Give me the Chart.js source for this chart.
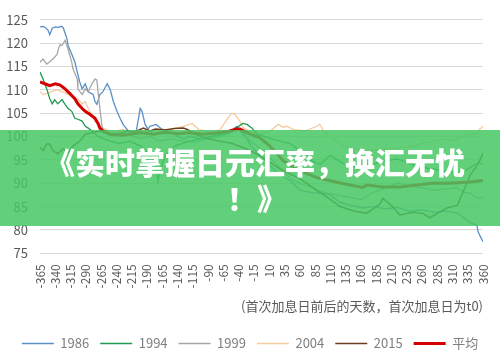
<!DOCTYPE html>
<html><head><meta charset="utf-8">
<script src="https://cdn.jsdelivr.net/npm/chart.js@4/dist/chart.umd.min.js"></script>
<style>
html,body{margin:0;padding:0;background:#fff;}
#wrap{position:relative;width:500px;height:356px;overflow:hidden;}
canvas{position:absolute;left:0;top:0;}
#banner{position:absolute;left:0;top:130px;width:500px;height:96px;background:rgba(70,199,100,0.85);}
.bt{position:absolute;left:0;width:500px;color:#fff;font-family:"Noto Sans CJK SC";font-weight:900;font-size:30px;line-height:36px;text-align:center;white-space:nowrap;}
</style></head>
<body><div id="wrap"><canvas id="c" width="500" height="356"></canvas>
<div id="banner"><div class="bt" style="top:13px;left:5px">《实时掌握日元汇率，换汇无忧</div><div class="bt" style="top:49px;left:7px">！》</div></div></div>
<script>
const xTickLabels = [-365,-340,-315,-290,-265,-240,-215,-190,-165,-140,-115,-90,-65,-40,-15,10,35,60,85,110,135,160,185,210,235,260,285,310,335,360];
const seriesNames = ['1986','1994','1999','2004','2015','平均'];

const days1986 = [-365,-360,-356,-352,-349,-345,-340,-335,-330,-327,-321,-319,-313,-308,-304,-300,-296,-291,-286,-278,-275,-272,-267,-262,-255,-250,-245,-239,-234,-229,-223,-215,-208,-201,-198,-193,-188,-185,-175,-165,-150,-140,-130,-120,-100,-80,-60,-43,-30,-20,-5,10,25,45,60,80,100,110,125,142,164,180,200,220,240,260,280,300,318,330,339,350,352,356,360];
const vals1986 = [123.5,123.6,123.3,122.8,121.8,123.2,123.5,123.4,123.6,123.3,121,119.5,117.6,116,113.8,111.7,110.2,111.3,109.6,109,107.5,106.9,109,109.6,111.3,110,107.5,105.4,103.9,102.6,101.6,100.5,100.8,106,105.4,102.6,101.6,102.2,102.6,101.5,101,100,99.5,100,99.5,100,100.5,102.2,100.5,98,96,94,92,90.5,88.5,88,87.8,87.5,86,85.3,84.7,85,84.5,84.8,84,84.3,83.8,84,83.6,82.5,81.5,81,79.6,78.5,77.5];

const days1994 = [-365,-360,-354,-349,-345,-341,-336,-329,-324,-319,-313,-308,-303,-296,-291,-286,-280,-270,-250,-235,-218,-201,-185,-176,-172,-168,-160,-144,-120,-87,-54,-33,-26,-18,-10,3,15,28,44,60,77,93,110,134,164,190,219,245,273,306,327,344,355,360];
const vals1994 = [113.8,112.3,110.2,108.1,107,107.9,107,107.9,106.9,106,105.4,103.9,103.7,103.3,102.2,101.8,101.2,100,99,98.5,99,98,96,95,90.5,93,96,98,99,100,101,102.8,102.6,101.8,100.5,100,99.5,99,98.5,97,95,94,96,94,93.1,94.5,95.2,94,93.1,92.5,92.3,93.8,94.4,94];

const days1999 = [-365,-360,-354,-349,-344,-337,-335,-332,-329,-324,-321,-319,-313,-311,-304,-303,-296,-291,-286,-280,-275,-272,-270,-267,-264,-262,-255,-245,-230,-215,-200,-185,-170,-150,-130,-110,-90,-70,-50,-40,-30,-15,0,15,30,45,60,80,100,120,140,160,180,200,220,240,260,280,300,318,330,339,350,360];
const vals1999 = [115.9,116.6,115.5,116,116.6,117.6,118.7,119.7,119.5,120.6,119.5,118.7,115.9,114.5,112.3,110.2,109,110.2,109.6,111.3,112.3,112.1,109.6,106,102.6,101.2,100.5,100,100.8,100.2,99.5,100,99,99.5,99,98.8,99.5,100,101,101.5,100,98.5,97,95,93,91,90,89,88,87.5,87,86.5,88,89,90,89.5,89,88.5,88.8,89,88,87.9,86.8,87];

const days2004 = [-365,-360,-354,-346,-337,-329,-321,-313,-304,-296,-291,-286,-280,-275,-267,-259,-245,-230,-215,-200,-185,-172,-155,-135,-120,-116,-105,-85,-70,-59,-51,-46,-38,-33,-20,-5,10,25,33,39,50,70,88,93,100,110,125,142,170,195,220,250,262,280,301,311,327,334,350,355,360];
const vals2004 = [109.6,109,109.2,109.6,110,109.6,109.2,108.5,108.1,107,107.5,106,104.7,103.3,102.2,101.6,101,101.5,101,101.3,101,101.6,101.5,102,102.6,102.8,101.5,101,101.5,103.7,105,104.7,103.3,102,101,100.5,101,102.6,102,102.2,101.5,101.2,102.2,102.6,101,100,98.5,97.5,97,97.3,97.5,98,98.6,99,99.5,99,100.1,100.5,100.7,101.6,102.2];

const days2015 = [-365,-360,-354,-349,-344,-336,-327,-319,-311,-300,-291,-283,-267,-250,-234,-222,-210,-196,-185,-176,-160,-145,-130,-124,-110,-90,-70,-50,-21,0,28,44,60,77,93,105,126,150,170,191,196,212,224,246,262,273,301,318,327,339,350,355,360];
const vals2015 = [97.6,97,98.4,98.4,97,96.3,97.4,96.5,98,99,100.5,100.7,101.2,100.5,100.7,101.2,101,101.8,101.2,101.6,101.4,101.7,101.8,101.5,100.5,99.5,99,98.5,97,95.5,93,92,91,89.5,88,87,85,84,83.6,85.5,86.8,85,83.2,83.8,83.5,82.6,84.7,85.3,88,91.7,93.8,95,96.5];

const daysAvg = [-365,-357,-349,-340,-332,-324,-316,-308,-303,-296,-291,-283,-275,-270,-267,-262,-250,-230,-218,-200,-180,-160,-140,-120,-100,-80,-60,-43,-38,-21,-5,11,23,33,60,88,121,142,163,170,196,224,252,278,306,334,360];
const valsAvg = [111.7,111.3,110.9,111.3,111,110.2,109.2,108.1,107,106,105.4,104.7,103.9,102.8,101.8,101.2,100.5,100.3,100.5,100.8,100.5,100.9,100.6,100.8,100.5,100.7,101,101.6,101.6,100.5,99.7,98,96.3,94.8,92.7,91.2,90.2,89.6,89.1,89.6,89.2,89.2,89.6,90,90,90.2,90.6];

const pts = (d, v) => d.map((x, i) => ({x: x, y: v[i]}));
const colors = ['#5b8fc9', '#1f9a52', '#a6a6a6', '#f7cba0', '#6b3e1e', '#d40000'];
const widths = [1.3, 1.3, 1.3, 1.3, 1.5, 3];
const drawOrder = [5, 3, 4, 6, 2, 0];
const allDays = [days1986, days1994, days1999, days2004, days2015, daysAvg];
const allVals = [vals1986, vals1994, vals1999, vals2004, vals2015, valsAvg];

const FONT = '"Noto Sans CJK SC", "Noto Sans", sans-serif';
new Chart(document.getElementById('c'), {
  type: 'line',
  data: {
    datasets: seriesNames.map((n, i) => ({
      label: n,
      data: pts(allDays[i], allVals[i]),
      borderColor: colors[i],
      backgroundColor: colors[i],
      borderWidth: widths[i],
      pointRadius: 0,
      tension: 0,
      order: drawOrder[i]
    }))
  },
  options: {
    responsive: false,
    animation: false,
    devicePixelRatio: 1,
    layout: {padding: {left: 0, right: 0, top: 7, bottom: -4}},
    plugins: {
      tooltip: {enabled: false},
      legend: {
        position: 'bottom',
        labels: {
          font: {family: FONT, size: 13},
          color: '#7f7f7f',
          usePointStyle: true,
          pointStyleWidth: 32,
          padding: 11,
          generateLabels: (chart) => seriesNames.map((n, i) => ({
            text: n,
            fillStyle: colors[i],
            strokeStyle: colors[i],
            lineWidth: i === 5 ? 3 : 1.5,
            pointStyle: 'line',
            fontColor: '#7f7f7f',
            datasetIndex: i,
            hidden: false
          }))
        }
      }
    },
    scales: {
      x: {
        type: 'linear',
        min: -365,
        max: 360,
        afterBuildTicks: (s) => { s.ticks = xTickLabels.map(v => ({value: v})); },
        afterFit: (s) => { s.paddingRight = 17; },
        ticks: {
          autoSkip: false,
          minRotation: 90,
          maxRotation: 90,
          color: '#595959',
          font: {family: FONT, size: 12},
          padding: 3,
          callback: (v) => String(v)
        },
        grid: {display: false},
        border: {display: false},
        title: {
          display: true,
          text: '(首次加息日前后的天数，首次加息日为t0)',
          align: 'end',
          color: '#595959',
          font: {family: FONT, size: 13},
          padding: {top: 7, bottom: 12}
        }
      },
      y: {
        min: 75,
        max: 125,
        afterFit: (s) => { s.width = 40; },
        ticks: {stepSize: 5, color: '#595959', font: {family: FONT, size: 13}, padding: 12},
        grid: {color: '#d9d9d9', drawTicks: false, lineWidth: 1},
        border: {display: false}
      }
    }
  }
});
</script>
</body></html>
